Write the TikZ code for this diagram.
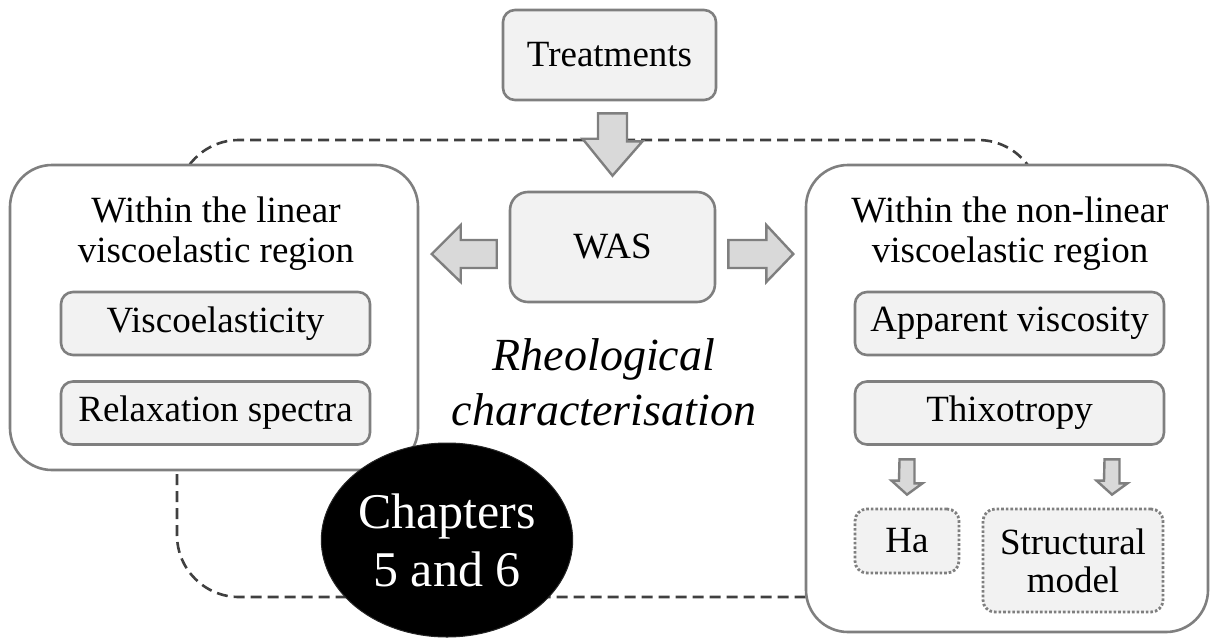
\documentclass[tikz,border=0pt]{standalone}
\usepackage{fontspec}
\setmainfont{Liberation Serif}
\usetikzlibrary{shapes.geometric,calc}
\definecolor{boxfill}{HTML}{F2F2F2}
\definecolor{boxline}{HTML}{7F7F7F}
\definecolor{arrowfill}{HTML}{D9D9D9}
\definecolor{dashline}{HTML}{404040}
\begin{document}
\begin{tikzpicture}[x=1pt,y=-1pt,
  every node/.style={inner sep=0pt,align=center},
  txt/.style={font=\fontsize{37}{40}\selectfont,anchor=base},
  itembox/.style={draw=boxline,fill=boxfill,line width=2.6pt,rounded corners=12pt,
    font=\fontsize{37}{38}\selectfont},
  groupbox/.style={draw=boxline,fill=white,line width=2.6pt,rounded corners=42pt},
  dotbox/.style={itembox,dotted,line width=2.8pt},
  blockarrow/.style={draw=boxline,fill=arrowfill,line width=2.4pt,line join=miter},
  caption/.style={font=\fontsize{46}{55}\selectfont\itshape,anchor=base},
]
\useasboundingbox (0,0) rectangle (1214,637);

% dashed frame around the characterisation
\draw[dashline,line width=2.6pt,dash pattern=on 11pt off 6pt,rounded corners=62pt]
  (177,140) rectangle (1040,597);

% top box and central box
\node[itembox,minimum width=213pt,minimum height=90pt] (treat) at (609.5,55) {Treatments};
\node[itembox,minimum width=205pt,minimum height=110pt,rounded corners=18pt] (was) at (612.5,247) {WAS};

% left group
\node[groupbox,minimum width=408pt,minimum height=305pt] (lin) at (214,317.5) {};
\node[txt] (linT1) at (216,222) {Within the linear};
\node[txt] (linT2) at (216,262) {viscoelastic region};
\node[itembox,minimum width=309pt,minimum height=63pt] (visc) at (215.5,323.5) {Viscoelasticity};
\node[itembox,minimum width=309pt,minimum height=63pt] (relax) at (215.5,413) {Relaxation spectra};

% right group
\node[groupbox,minimum width=402pt,minimum height=467pt] (nonlin) at (1007,398.5) {};
\node[txt] (nonlinT1) at (1010,222) {Within the non-linear};
\node[txt] (nonlinT2) at (1010,262) {viscoelastic region};
\node[itembox,minimum width=309pt,minimum height=63pt] (app) at (1009.5,323.5) {Apparent viscosity};
\node[itembox,minimum width=309pt,minimum height=63pt] (thix) at (1009.5,413) {Thixotropy};
\node[dotbox,minimum width=104pt,minimum height=64pt] (ha) at (907,541) {Ha};
\node[dotbox,minimum width=180pt,minimum height=103pt] (struct) at (1073,560.5) {Structural\\model};

% block arrows
\draw[blockarrow] ($(treat.south)+(-11.5,12)$) -- ++(29,0) -- ++(0,28) -- ++(15.5,0)
  -- ($(was.north)+(0,-15)$) -- ++(-30,-37) -- ++(15.5,0) -- cycle;
\draw[blockarrow] ($(was.west)+(-12,-7)$) -- ++(0,28) -- ++(-36,0) -- ++(0,14)
  -- ($(was.west)+(-77,7)$) -- ++(29,-29) -- ++(0,15) -- cycle;
\draw[blockarrow] ($(was.east)+(12,-7)$) -- ++(0,28) -- ++(38,0) -- ++(0,14)
  -- ($(was.east)+(77,7)$) -- ++(-27,-29) -- ++(0,15) -- cycle;
\draw[blockarrow] ($(thix.south -| ha.north)+(-7.5,13.5)$) -- ++(15,0) -- ++(0,24) -- ++(8,0)
  -- ($(ha.north)+(0,-13)$) -- ++(-15.5,-14) -- ++(7.5,0) -- cycle;
\draw[blockarrow] ($(thix.south -| struct.north)+(31.5,13.5)$) -- ++(15,0) -- ++(0,24) -- ++(8,0)
  -- ($(struct.north)+(39,-13)$) -- ++(-15.5,-14) -- ++(7.5,0) -- cycle;

% caption in the middle
\node[caption] (rheo1) at (604,370) {Rheological};
\node[caption] (rheo2) at (604,425) {characterisation};

% chapter badge
\node[ellipse,fill=black,draw=black!85,line width=1pt,minimum width=236pt,minimum height=194pt,
  text=white,font=\fontsize{50}{58}\selectfont] (chap) at (447,540) {Chapters\\5 and 6};
\end{tikzpicture}
\end{document}
